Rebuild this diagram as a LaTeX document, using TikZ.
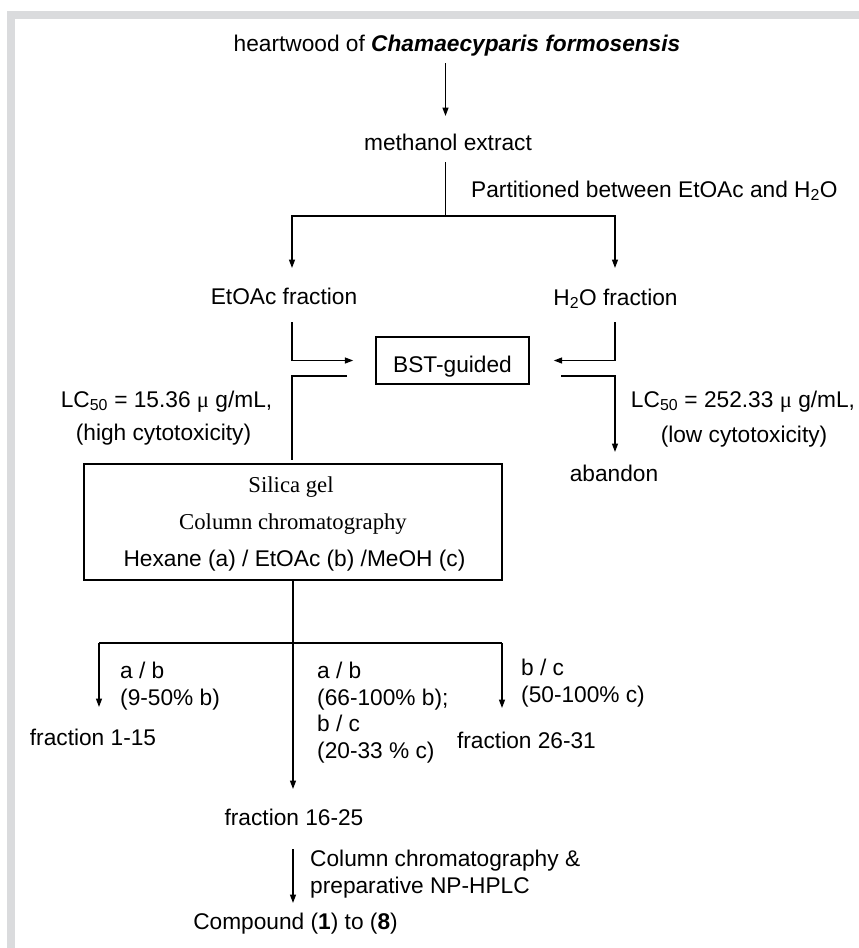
\documentclass[tikz,border=0pt]{standalone}
\usepackage{fontspec}
\setmainfont{Liberation Sans}
\newfontfamily\timesf{Liberation Serif}
\usetikzlibrary{arrows.meta}
\definecolor{framegray}{HTML}{DADBDD}
\newcommand{\fsz}{\fontsize{22.7}{27}\selectfont}
\begin{document}
\begin{tikzpicture}[x=1pt,y=-1pt,
  every node/.style={inner sep=0pt, font=\fsz},
  txt/.style={anchor=base},
  txtl/.style={anchor=base west},
  serif/.style={anchor=base, font=\timesf\fsz},
  ln/.style={line width=1.45pt, draw=black},
  arr/.style={ln, -{Triangle[length=8.5pt,width=6pt]}},
  boxst/.style={draw=black, line width=1.45pt}
]
% canvas and frame
\fill[white] (0,0) rectangle (859,948);
\fill[framegray] (7,11) rectangle (859,19);
\fill[framegray] (7,11) rectangle (15,948);

% texts
\node[txt] (heart) at (457,51.7) {heartwood of \textbf{\textit{Chamaecyparis formosensis}}};
\node[txt] (meth) at (448,150) {methanol extract};
\node[txtl] (part) at (471,197) {Partitioned between EtOAc and H\textsubscript{2}O};
\node[txt] (etoac) at (284,304) {EtOAc fraction};
\node[txt] (water) at (615.5,305) {H\textsubscript{2}O fraction};
\node[boxst, text height=24pt, text depth=0pt, minimum width=153pt, minimum height=47pt] (bst) at (452.5,360.5) {BST-guided};
\node[txt] (lcl1) at (166.5,407) {LC\textsubscript{50} = 15.36 {\timesf μ} g/mL,};
\node[txt] (lcl2) at (163.5,440) {(high cytotoxicity)};
\node[txt] (lcr1) at (743,407) {LC\textsubscript{50} = 252.33 {\timesf μ} g/mL,};
\node[txt] (lcr2) at (744,442) {(low cytotoxicity)};
\node[txt] (aband) at (614,481.7) {abandon};
\node[boxst, minimum width=418pt, minimum height=116pt] (silica) at (293,522) {};
\node[serif] (sil1) at (291,492) {Silica gel};
\node[serif] (sil2) at (293,529.5) {Column chromatography};
\node[txt] (sil3) at (294.5,566) {Hexane (a) / EtOAc (b) /MeOH (c)};

\node[txtl] (l1) at (120,678.3) {a / b};
\node[txtl] (l2) at (120,705) {(9-50\% b)};
\node[txt] (f1) at (93,745) {fraction 1-15};
\node[txtl] (m1) at (317,678) {a / b};
\node[txtl] (m2) at (317,705) {(66-100\% b);};
\node[txtl] (m3) at (317,731.7) {b / c};
\node[txtl] (m4) at (317,758) {(20-33 \% c)};
\node[txtl] (r1) at (521,675) {b / c};
\node[txtl] (r2) at (521,702) {(50-100\% c)};
\node[txt] (f3) at (526.5,748) {fraction 26-31};
\node[txt] (f2) at (294,825) {fraction 16-25};
\node[txtl] (cc1) at (310,866.7) {Column chromatography \&};
\node[txtl] (cc2) at (310,893) {preparative NP-HPLC};
\node[txt] (comp) at (295.5,929) {Compound (\textbf{1}) to (\textbf{8})};

% junction coordinates
\coordinate (a1s) at (445.5,63);
\coordinate (a1e) at (445.5,116);
\coordinate (ms) at (445.5,162);
\coordinate (sp) at (445.5,216);
\coordinate (eA) at (292,268);
\coordinate (wA) at (615,268);
\coordinate (eB) at (292,322);
\coordinate (wB) at (615,322);
\coordinate (oL) at (347,376);
\coordinate (oLc) at (292,376);
\coordinate (oLe) at (292,460);
\coordinate (oR) at (561,376);
\coordinate (oRc) at (615,376);
\coordinate (oRe) at (615,452);
\coordinate (sp2) at (293,643);
\coordinate (hL) at (99,643);
\coordinate (hR) at (502,643);
\coordinate (aL) at (99,707);
\coordinate (aM) at (293,789);
\coordinate (aR) at (502,708);
\coordinate (fs) at (293,849);
\coordinate (fe) at (293,903);

% connectors
\draw[arr] (a1s) -- (a1e);
\draw[ln] (ms) -- (sp);
\draw[arr] (sp) -| (eA);
\draw[arr] (sp) -| (wA);
\draw[arr, shorten >=22pt] (eB) |- (bst.west);
\draw[arr, shorten >=24pt] (wB) |- (bst.east);
\draw[ln] (oL) -- (oLc) -- (oLe);
\draw[arr] (oR) -- (oRc) -- (oRe);
\draw[ln] (silica.south) -- (sp2);
\draw[ln] (hL) -- (hR);
\draw[arr] (hL) -- (aL);
\draw[arr] (sp2) -- (aM);
\draw[arr] (hR) -- (aR);
\draw[arr] (fs) -- (fe);
\end{tikzpicture}
\end{document}
